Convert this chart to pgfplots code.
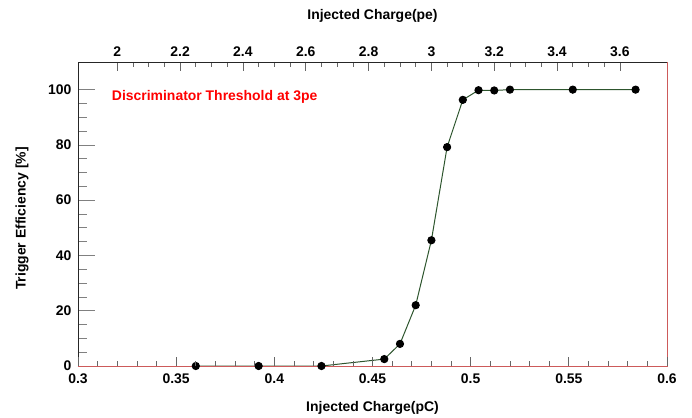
\documentclass[border=0pt]{standalone}
\usepackage{fontspec}
\setmainfont{Liberation Sans}
\usepackage{pgfplots}
\pgfplotsset{compat=1.18}
\definecolor{lgreen}{RGB}{45,85,45}
\definecolor{fred}{RGB}{205,90,90}
\pgfplotsset{
  common/.style={
    scale only axis, width=589bp, height=304bp,
    tick align=inside,
    axis line style={black!85, line width=0.9pt},
    /pgf/number format/assume math mode=true,
    ticklabel style={font=\bfseries\fontsize{14}{16}\selectfont},
  }
}
\begin{document}
\begin{tikzpicture}
% main axis: data + y ticks
\begin{axis}[
  common,
  name=main,
  xmin=0.3, xmax=0.6, ymin=0, ymax=110,
  xtick=\empty,
  ytick={0,20,40,60,80,100},
  minor y tick num=3,
  ytick pos=left,
  major tick length=17bp, minor tick length=9bp,
  tick style={black!50, line width=0.7pt},
  yticklabel style={xshift=-3bp},
  ylabel={Trigger Efficiency [\%]},
  every axis y label/.style={at={([xshift=-56bp]axis description cs:0,0.485)}, anchor=center, rotate=90, font=\bfseries\fontsize{14}{16}\selectfont},
  clip=false,
]
\addplot[color=lgreen, line width=1pt, mark=*, mark size=3.6pt, mark options={fill=black, draw=black, solid}] coordinates {
(0.360,0) (0.392,0) (0.424,0) (0.456,2.5) (0.464,8) (0.472,22) (0.480,45.5)
(0.488,79.2) (0.496,96.3) (0.504,99.8) (0.512,99.7) (0.520,100) (0.552,100) (0.584,100)
};
\node[anchor=west, text=red, font=\bfseries\fontsize{14}{16}\selectfont] at (axis cs:0.3155,97.5) {Discriminator Threshold at 3pe};
\draw[fred, line width=0.6pt] (rel axis cs:0,0) -- (rel axis cs:1,0) -- (rel axis cs:1,1);
\end{axis}
% bottom x axis
\begin{axis}[
  common,
  xmin=0.3, xmax=0.6, ymin=0, ymax=110,
  axis x line*=bottom, axis y line=none,
  xtick={0.3,0.35,0.4,0.45,0.5,0.55,0.6},
  minor x tick num=4,
  major tick length=9bp, minor tick length=5bp,
  tick style={black!60, line width=0.7pt},
  axis line style={draw=none},
  xticklabel style={yshift=-4bp},
  xlabel={Injected Charge(pC)},
  every axis x label/.style={at={([yshift=-42bp]axis description cs:0.5,0)}, anchor=center, font=\bfseries\fontsize{14}{16}\selectfont},
]
\end{axis}
% top x axis
\begin{axis}[
  common,
  xmin=1.875, xmax=3.75, ymin=0, ymax=110,
  axis x line*=top, axis y line=none,
  xtick={2,2.2,2.4,2.6,2.8,3,3.2,3.4,3.6},
  minor x tick num=3,
  major tick length=9bp, minor tick length=5bp,
  tick style={black!60, line width=0.7pt},
  xticklabel style={yshift=2bp},
  xlabel={Injected Charge(pe)},
  every axis x label/.style={at={([yshift=46bp]axis description cs:0.5,1)}, anchor=center, font=\bfseries\fontsize{14}{16}\selectfont},
]
\end{axis}
\pgfresetboundingbox
\path[use as bounding box] ([shift={(-78bp,-52bp)}]main.south west) rectangle ([shift={(25bp,62bp)}]main.north east);
\end{tikzpicture}
\end{document}
